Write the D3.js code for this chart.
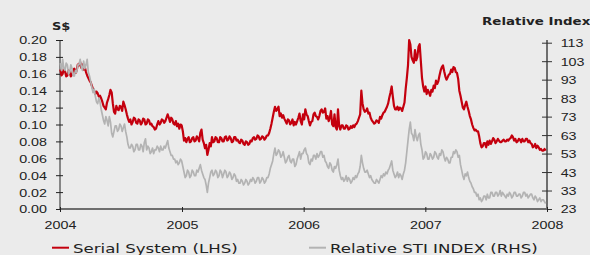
<!DOCTYPE html>
<html>
<head>
<meta charset="utf-8">
<script src="https://cdn.jsdelivr.net/npm/d3@7"></script>
<style>
body { margin: 0; background: #ebebeb; }
svg { display: block; font-family: "DejaVu Sans", Verdana, sans-serif; }
</style>
</head>
<body>
<svg id="chart" width="590" height="255"></svg>
<script>
// half-weekly closes (every 3.5 days), starting 2 Jan 2004
const firstDay = "2004-01-02";
const stepHours = 84;

const serialSystem = [
    0.165, 0.158, 0.160, 0.166, 0.163, 0.157, 0.158, 0.164, 0.162, 0.157,
    0.159, 0.165, 0.166, 0.161, 0.164, 0.171, 0.170, 0.174, 0.167, 0.171,
    0.165, 0.168, 0.162, 0.158, 0.155, 0.152, 0.150, 0.146, 0.142, 0.140,
    0.136, 0.139, 0.137, 0.133, 0.134, 0.131, 0.127, 0.122, 0.120, 0.118,
    0.126, 0.130, 0.135, 0.141, 0.138, 0.125, 0.115, 0.113, 0.122, 0.118,
    0.117, 0.122, 0.121, 0.116, 0.127, 0.123, 0.118, 0.112, 0.107, 0.103,
    0.106, 0.100, 0.103, 0.108, 0.107, 0.102, 0.101, 0.106, 0.105, 0.100,
    0.102, 0.107, 0.106, 0.100, 0.101, 0.106, 0.105, 0.100, 0.101, 0.098,
    0.097, 0.094, 0.095, 0.100, 0.104, 0.100, 0.102, 0.106, 0.105, 0.102,
    0.104, 0.108, 0.112, 0.108, 0.103, 0.108, 0.106, 0.101, 0.100, 0.104,
    0.098, 0.101, 0.095, 0.100, 0.099, 0.092, 0.081, 0.084, 0.079, 0.083,
    0.085, 0.079, 0.080, 0.084, 0.085, 0.080, 0.081, 0.086, 0.084, 0.080,
    0.090, 0.094, 0.082, 0.078, 0.072, 0.076, 0.064, 0.070, 0.078, 0.074,
    0.085, 0.079, 0.080, 0.085, 0.084, 0.079, 0.079, 0.085, 0.084, 0.080,
    0.080, 0.085, 0.086, 0.081, 0.082, 0.086, 0.084, 0.079, 0.080, 0.085,
    0.085, 0.081, 0.082, 0.079, 0.078, 0.082, 0.081, 0.077, 0.076, 0.080,
    0.079, 0.076, 0.077, 0.081, 0.080, 0.084, 0.085, 0.082, 0.083, 0.087,
    0.086, 0.082, 0.083, 0.086, 0.085, 0.082, 0.084, 0.087, 0.087, 0.090,
    0.095, 0.101, 0.108, 0.115, 0.121, 0.116, 0.118, 0.121, 0.110, 0.113,
    0.108, 0.111, 0.107, 0.104, 0.101, 0.106, 0.105, 0.100, 0.102, 0.106,
    0.099, 0.103, 0.100, 0.104, 0.108, 0.113, 0.104, 0.100, 0.112, 0.106,
    0.118, 0.112, 0.110, 0.104, 0.099, 0.103, 0.104, 0.112, 0.114, 0.110,
    0.109, 0.106, 0.110, 0.116, 0.118, 0.114, 0.115, 0.119, 0.107, 0.110,
    0.104, 0.108, 0.116, 0.100, 0.098, 0.112, 0.097, 0.094, 0.118, 0.098,
    0.094, 0.099, 0.099, 0.095, 0.095, 0.099, 0.098, 0.094, 0.095, 0.098,
    0.096, 0.099, 0.097, 0.100, 0.101, 0.104, 0.108, 0.112, 0.140, 0.125,
    0.118, 0.115, 0.116, 0.119, 0.113, 0.114, 0.108, 0.105, 0.103, 0.101,
    0.102, 0.105, 0.104, 0.102, 0.109, 0.107, 0.111, 0.114, 0.115, 0.118,
    0.121, 0.125, 0.132, 0.138, 0.145, 0.133, 0.122, 0.118, 0.118, 0.121,
    0.117, 0.120, 0.119, 0.116, 0.121, 0.126, 0.142, 0.155, 0.170, 0.200,
    0.195, 0.180, 0.176, 0.173, 0.188, 0.176, 0.180, 0.192, 0.195, 0.175,
    0.155, 0.145, 0.139, 0.145, 0.136, 0.141, 0.138, 0.134, 0.141, 0.139,
    0.146, 0.143, 0.152, 0.148, 0.151, 0.158, 0.164, 0.168, 0.170, 0.163,
    0.157, 0.153, 0.156, 0.159, 0.160, 0.165, 0.162, 0.168, 0.167, 0.162,
    0.161, 0.154, 0.140, 0.134, 0.127, 0.120, 0.118, 0.123, 0.127, 0.121,
    0.116, 0.110, 0.106, 0.100, 0.096, 0.093, 0.094, 0.092, 0.092, 0.086,
    0.078, 0.073, 0.074, 0.078, 0.078, 0.073, 0.080, 0.076, 0.081, 0.077,
    0.080, 0.084, 0.082, 0.078, 0.080, 0.083, 0.081, 0.079, 0.079, 0.081,
    0.082, 0.080, 0.080, 0.082, 0.081, 0.083, 0.084, 0.087, 0.085, 0.081,
    0.083, 0.079, 0.080, 0.083, 0.082, 0.079, 0.083, 0.080, 0.080, 0.083,
    0.083, 0.079, 0.081, 0.078, 0.077, 0.073, 0.074, 0.077, 0.072, 0.075,
    0.073, 0.070, 0.071, 0.069, 0.069, 0.071, 0.069
];

const stiIndex = [
    102, 98, 104, 99, 98, 102, 101, 96, 97, 101,
    99, 95, 95, 98, 97, 101, 101, 104, 100, 98,
    103, 99, 101, 104, 97, 95, 92, 89, 86, 88,
    84, 81, 80, 83, 81, 77, 74, 71, 69, 73,
    71, 68, 73, 70, 64, 62, 65, 68, 68, 65,
    66, 69, 68, 65, 67, 69, 65, 62, 58, 56,
    56, 58, 57, 54, 55, 58, 58, 55, 55, 58,
    57, 54, 59, 61, 55, 57, 56, 53, 54, 56,
    53, 55, 55, 57, 56, 54, 57, 55, 55, 57,
    56, 58, 60, 56, 54, 52, 52, 50, 50, 48,
    49, 47, 48, 50, 49, 46, 43, 40, 41, 44,
    43, 40, 41, 44, 43, 41, 41, 44, 43, 45,
    47, 44, 42, 40, 39, 36, 32, 37, 40, 43,
    44, 41, 42, 44, 43, 40, 41, 44, 43, 40,
    42, 44, 43, 40, 41, 43, 42, 39, 40, 42,
    41, 38, 39, 37, 37, 39, 38, 36, 37, 39,
    38, 36, 37, 39, 38, 40, 39, 37, 38, 40,
    40, 37, 38, 40, 39, 37, 38, 40, 40, 42,
    45, 47, 49, 53, 56, 52, 53, 55, 54, 51,
    52, 54, 51, 48, 49, 51, 52, 49, 48, 50,
    50, 46, 47, 50, 52, 54, 50, 53, 53, 55,
    56, 53, 52, 48, 47, 50, 49, 52, 52, 50,
    53, 51, 52, 54, 54, 51, 52, 49, 48, 46,
    45, 48, 47, 44, 43, 46, 45, 47, 50, 44,
    41, 39, 40, 38, 39, 41, 38, 40, 39, 37,
    38, 40, 39, 41, 40, 42, 43, 46, 52, 48,
    45, 43, 43, 44, 42, 40, 41, 39, 38, 37,
    37, 39, 38, 37, 39, 41, 40, 42, 41, 43,
    42, 44, 45, 47, 49, 44, 42, 40, 41, 43,
    40, 42, 41, 39, 42, 44, 48, 54, 60, 66,
    70, 64, 63, 60, 66, 62, 60, 63, 64, 58,
    55, 50, 51, 54, 53, 50, 50, 53, 52, 50,
    51, 54, 53, 51, 50, 53, 52, 55, 54, 51,
    49, 51, 50, 48, 48, 51, 51, 54, 53, 55,
    54, 51, 52, 47, 44, 41, 39, 42, 41, 43,
    40, 38, 37, 35, 34, 32, 32, 30, 31, 28,
    29, 27, 28, 30, 30, 28, 31, 29, 29, 32,
    32, 30, 30, 32, 32, 30, 31, 33, 30, 32,
    31, 30, 29, 31, 30, 32, 31, 29, 30, 32,
    32, 30, 30, 31, 31, 29, 30, 32, 32, 30,
    31, 29, 30, 31, 31, 29, 28, 30, 29, 27,
    28, 29, 27, 28, 28, 27, 26
];

const leftTicks = [0, 0.02, 0.04, 0.06, 0.08, 0.10, 0.12, 0.14, 0.16, 0.18, 0.20];
const rightTicks = [23, 33, 43, 53, 63, 73, 83, 93, 103, 113];
const yearTicks = ["2004", "2005", "2006", "2007", "2008"];
const seriesNames = ["Serial System (LHS)", "Relative STI INDEX (RHS)"];
const seriesColors = ["#c4000e", "#b3b3b3"];

const parse = d3.timeParse("%Y-%m-%d");
const start = parse(firstDay);
const dates = serialSystem.map((d, i) => d3.timeHour.offset(start, i * stepHours));
const years = yearTicks.map(y => parse(y + "-01-01"));

const stretch = "scale(1.3,1)";

const svg = d3.select("#chart");

const x = d3.scaleTime()
    .domain([years[0], years[years.length - 1]])
    .range([60, 547]);

const yLeft = d3.scaleLinear()
    .domain([0, 0.2])
    .range([209, 40]);

const yRight = d3.scaleLinear()
    .domain([23, 113])
    .range([209, 42.7]);

// left axis
const leftAxis = svg.append("g")
    .attr("transform", "translate(60,0)")
    .call(d3.axisLeft(yLeft).tickValues(leftTicks).tickFormat(d3.format(".2f")).tickSizeOuter(0));
leftAxis.select(".domain").attr("stroke", "#222").attr("d", "M0,40V209");
leftAxis.selectAll(".tick line").attr("x1", -4).attr("x2", 3).attr("stroke", "#222");
leftAxis.selectAll(".tick text")
    .attr("x", -10).attr("dy", "0.36em")
    .attr("transform", stretch)
    .attr("fill", "#222").style("font-size", "11px");

// right axis
const rightAxis = svg.append("g")
    .attr("transform", "translate(547,0)")
    .call(d3.axisRight(yRight).tickValues(rightTicks).tickSizeOuter(0));
rightAxis.select(".domain").attr("stroke", "#444").attr("stroke-width", 1.5).attr("d", "M0,40V210");
rightAxis.selectAll(".tick line").attr("x1", -5).attr("x2", 5).attr("stroke", "#333");
rightAxis.selectAll(".tick text")
    .attr("x", 10.5).attr("dy", "0.36em")
    .attr("transform", stretch)
    .attr("fill", "#222").style("font-size", "11px");

// bottom axis
const bottomAxis = svg.append("g")
    .attr("transform", "translate(0,209)")
    .call(d3.axisBottom(x).tickValues(years).tickFormat(d3.timeFormat("%Y")).tickSizeOuter(0));
bottomAxis.select(".domain").attr("stroke", "#6e6e6e").attr("stroke-width", 2).attr("d", "M60,0H548");
bottomAxis.selectAll(".tick line").attr("y1", -2).attr("y2", 3).attr("stroke", "#222");
bottomAxis.selectAll(".tick text")
    .attr("y", 20).attr("dy", 0)
    .attr("transform", stretch)
    .attr("fill", "#222").style("font-size", "11px");

// series
const redLine = d3.line()
    .x((d, i) => x(dates[i]))
    .y(d => yLeft(d));

const greyLine = d3.line()
    .x((d, i) => x(dates[i]))
    .y(d => yRight(d));

svg.append("path")
    .datum(serialSystem)
    .attr("fill", "none")
    .attr("stroke", seriesColors[0])
    .attr("stroke-width", 2.2)
    .attr("stroke-linejoin", "round")
    .attr("d", redLine);

svg.append("path")
    .datum(stiIndex)
    .attr("fill", "none")
    .attr("stroke", seriesColors[1])
    .attr("stroke-width", 1.7)
    .attr("stroke-linejoin", "round")
    .attr("d", greyLine);

// axis titles
svg.append("text")
    .attr("transform", "translate(52,30) " + stretch)
    .attr("fill", "#222")
    .style("font-size", "10px").style("font-weight", "bold")
    .text("S$");

svg.append("text")
    .attr("transform", "translate(482,25) scale(1.34,1)")
    .attr("fill", "#222")
    .style("font-size", "10px").style("font-weight", "bold")
    .text("Relative Index");

// legend
const legendX = [52, 309];
const legend = svg.selectAll(".legend")
    .data(seriesNames)
    .join("g")
    .attr("class", "legend")
    .attr("transform", (d, i) => `translate(${legendX[i]},247.7)`);

legend.append("line")
    .attr("x1", 0).attr("x2", 17)
    .attr("stroke", (d, i) => seriesColors[i])
    .attr("stroke-width", 2);

legend.append("text")
    .attr("transform", "translate(21,5.4) scale(1.33,1)")
    .attr("fill", "#222")
    .style("font-size", "12.5px")
    .text(d => d);
</script>
</body>
</html>
